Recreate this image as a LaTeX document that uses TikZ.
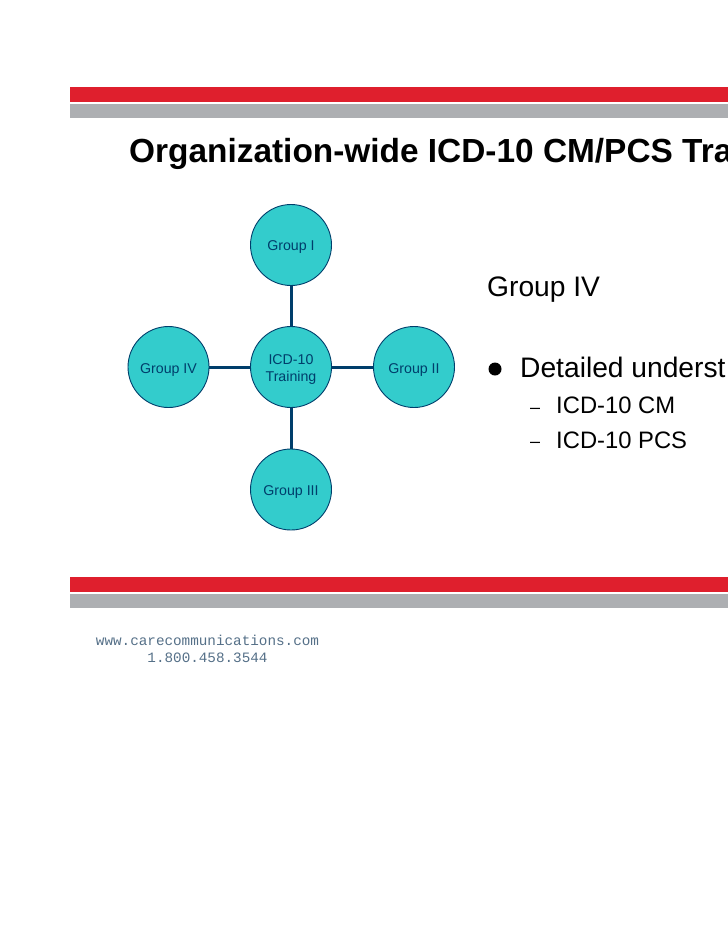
\documentclass[tikz,border=0pt]{standalone}
\usepackage{fontspec}
\setmainfont{Liberation Sans}
\newfontfamily\monof{Liberation Mono}
\definecolor{barred}{HTML}{DF1F2D}
\definecolor{bargray}{HTML}{ADAFB2}
\definecolor{teal}{HTML}{33CCCC}
\definecolor{navy}{HTML}{003E6B}
\definecolor{webblue}{HTML}{557088}
\tikzset{
  bub/.style={circle,draw=navy,line width=0.9pt,fill=teal,minimum size=81pt,inner sep=0pt},
  bubtext/.style={text=navy,align=center,inner sep=0pt,font=\fontsize{14.2}{17}\selectfont},
  link/.style={draw=navy,line width=3pt},
  body/.style={anchor=base west,inner sep=0pt,text=black},
  foot/.style={anchor=base,inner sep=0pt,text=webblue,font=\monof\fontsize{14.3}{16}\selectfont}
}
\begin{document}
\begin{tikzpicture}[x=1pt,y=-1pt]
\useasboundingbox (0,0) rectangle (728,943);
\fill[white] (0,0) rectangle (728,943);
\fill[barred] (70,87) rectangle (728,101.5);
\fill[bargray] (70,103.5) rectangle (728,118);
\fill[barred] (70,577) rectangle (728,591.5);
\fill[bargray] (70,593.5) rectangle (728,608);
\node[body,font=\bfseries\fontsize{33.4}{36}\selectfont] (title) at (129,162.5) {Organization-wide ICD-10 CM/PCS Tra};
\node[bub] (c) at (291,367) {};
\node[bub] (g1) at (291,245) {};
\node[bub] (g2) at (414,367) {};
\node[bub] (g3) at (291,489.5) {};
\node[bub] (g4) at (168.5,367) {};
\node[bubtext] (tc) at (291,369.5) {ICD-10\\Training};
\node[bubtext] (t1) at (291,247.5) {Group I};
\node[bubtext] (t2) at (414,370) {Group II};
\node[bubtext] (t3) at (291,492.5) {Group III};
\node[bubtext] (t4) at (168.5,370) {Group IV};
\draw[link] (c) -- (g1);
\draw[link] (c) -- (g2);
\draw[link] (c) -- (g3);
\draw[link] (c) -- (g4);
\node[body,font=\fontsize{28.2}{32}\selectfont] (h) at (487,296.5) {Group IV};
\node[circle,fill=black,minimum size=13pt,inner sep=0pt] (dot) at (495,369) {};
\node[body,font=\fontsize{28.2}{32}\selectfont] (b1) at (520,377) {Detailed underst};
\node[body,font=\fontsize{18}{22}\selectfont] (d1) at (530,413) {–};
\node[body,font=\fontsize{23.8}{28}\selectfont] (s1) at (556,413) {ICD-10 CM};
\node[body,font=\fontsize{18}{22}\selectfont] (d2) at (530,447) {–};
\node[body,font=\fontsize{23.8}{28}\selectfont] (s2) at (556,448) {ICD-10 PCS};
\node[foot] (w) at (207.5,645) {www.carecommunications.com};
\node[foot] (p) at (207.5,662.5) {1.800.458.3544};
\end{tikzpicture}
\end{document}
